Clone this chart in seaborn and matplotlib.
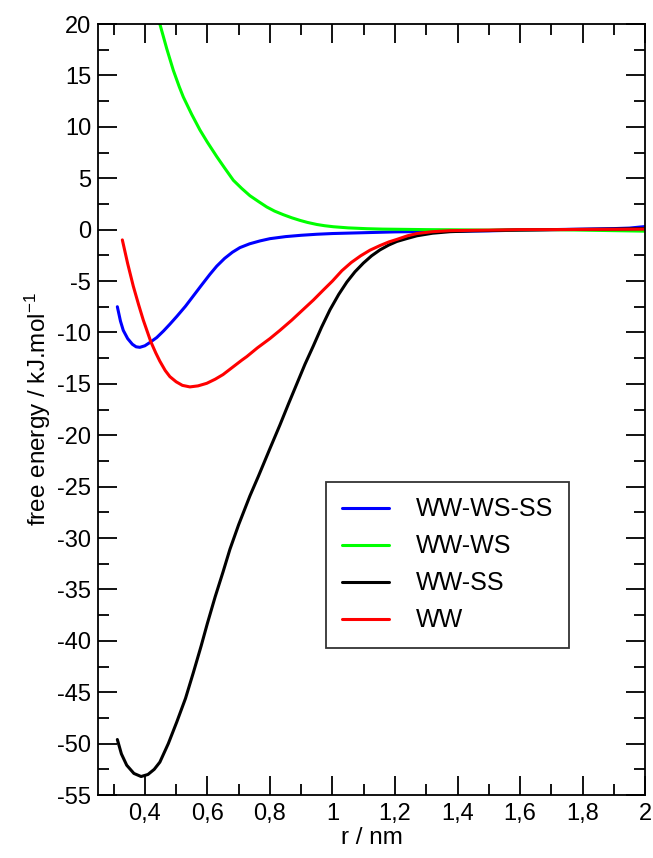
import numpy as np
import pandas as pd
import matplotlib
matplotlib.use("Agg")
import matplotlib.pyplot as plt
from matplotlib.ticker import MultipleLocator, FuncFormatter
import seaborn as sns

# values (r in nm, free energy in kJ/mol)
r_wwwsss = [0.312, 0.322, 0.331, 0.345, 0.36, 0.372, 0.384, 0.40, 0.415, 0.438, 0.46,
            0.48, 0.502, 0.53, 0.555, 0.58, 0.608, 0.63, 0.655, 0.68, 0.704, 0.735,
            0.768, 0.80, 0.85, 0.90, 0.95, 1.0, 1.1, 1.2, 1.3, 1.4, 1.5, 1.6, 1.7,
            1.8, 1.9, 1.95, 2.0]
g_wwwsss = [-7.5, -8.9, -9.8, -10.6, -11.15, -11.4, -11.45, -11.3, -11.0, -10.5, -9.85,
            -9.2, -8.45, -7.45, -6.45, -5.45, -4.35, -3.55, -2.8, -2.2, -1.75, -1.38,
            -1.1, -0.88, -0.68, -0.55, -0.45, -0.38, -0.3, -0.22, -0.18, -0.15, -0.12,
            -0.05, 0.0, 0.05, 0.1, 0.15, 0.3]

r_wwws = [0.448, 0.47, 0.491, 0.51, 0.523, 0.55, 0.576, 0.60, 0.63, 0.655, 0.683, 0.71,
          0.736, 0.765, 0.79, 0.815, 0.843, 0.87, 0.896, 0.92, 0.95, 0.975, 1.003, 1.05,
          1.11, 1.16, 1.216, 1.3, 1.4, 1.5, 1.6, 1.7, 1.8, 1.9, 2.0]
g_wwws = [20.0, 17.6, 15.5, 13.9, 12.9, 11.2, 9.7, 8.5, 7.1, 6.0, 4.8, 4.0,
          3.3, 2.7, 2.2, 1.8, 1.45, 1.15, 0.9, 0.7, 0.5, 0.38, 0.28, 0.17,
          0.09, 0.05, 0.03, 0.0, -0.02, -0.05, -0.03, 0.0, -0.05, -0.1, -0.15]

r_wwss = [0.312, 0.325, 0.342, 0.365, 0.388, 0.41, 0.43, 0.448, 0.475, 0.502, 0.53,
          0.555, 0.58, 0.60, 0.625, 0.65, 0.672, 0.70, 0.736, 0.763, 0.80, 0.832,
          0.86, 0.886, 0.912, 0.939, 0.965, 0.992, 1.02, 1.046, 1.072, 1.099, 1.125,
          1.152, 1.18, 1.206, 1.24, 1.27, 1.32, 1.376, 1.45, 1.6, 1.7, 1.8, 1.9, 2.0]
g_wwss = [-49.6, -51.0, -52.1, -52.9, -53.2, -53.0, -52.5, -51.8, -50.0, -47.9, -45.6,
          -43.1, -40.5, -38.3, -35.7, -33.3, -31.1, -28.7, -25.9, -24.0, -21.3, -19.0,
          -16.9, -15.0, -13.1, -11.3, -9.5, -7.8, -6.3, -5.1, -4.1, -3.25, -2.55,
          -1.97, -1.5, -1.15, -0.85, -0.6, -0.35, -0.2, -0.12, -0.03, 0.0, 0.02, 0.05, 0.1]

r_ww = [0.328, 0.345, 0.363, 0.38, 0.395, 0.419, 0.435, 0.448, 0.465, 0.48, 0.50,
        0.52, 0.544, 0.57, 0.598, 0.625, 0.65, 0.68, 0.71, 0.726, 0.76, 0.80, 0.832,
        0.87, 0.90, 0.939, 0.97, 1.0, 1.03, 1.06, 1.09, 1.12, 1.152, 1.18, 1.206,
        1.24, 1.27, 1.32, 1.376, 1.5, 1.6, 1.7, 1.8, 1.9, 2.0]
g_ww = [-1.0, -3.3, -5.5, -7.3, -8.8, -10.9, -12.0, -12.8, -13.7, -14.3, -14.8,
        -15.15, -15.3, -15.2, -14.95, -14.55, -14.1, -13.4, -12.7, -12.35, -11.5, -10.6, -9.8,
        -8.8, -7.95, -6.85, -5.9, -5.0, -4.0, -3.2, -2.55, -2.0, -1.55, -1.2, -0.95,
        -0.6, -0.38, -0.2, -0.1, -0.05, 0.0, 0.0, 0.02, 0.03, 0.05]

names = ["WW-WS-SS", "WW-WS", "WW-SS", "WW"]
colors = ["#0000ff", "#00ff00", "#000000", "#ff0000"]

frames = []
for name, r, g in zip(names, [r_wwwsss, r_wwws, r_wwss, r_ww],
                      [g_wwwsss, g_wwws, g_wwss, g_ww]):
    frames.append(pd.DataFrame({"r": r, "G": g, "set": name}))
df = pd.concat(frames, ignore_index=True)

sns.set_theme(style="ticks")
plt.rcParams["font.family"] = ["Liberation Sans", "DejaVu Sans"]
plt.rcParams["mathtext.default"] = "regular"
plt.rcParams["text.color"] = "black"
plt.rcParams["axes.labelcolor"] = "black"

fig = plt.figure(figsize=(6.53, 8.58), dpi=100)
ax = fig.add_axes([0.150, 0.0734, 0.838, 0.8986])

sns.lineplot(data=df, x="r", y="G", hue="set", hue_order=names,
             palette=dict(zip(names, colors)), sort=True, linewidth=2.2,
             estimator=None, ax=ax)

ax.set_xlim(0.25, 2.0)
ax.set_ylim(-55, 20)
ax.xaxis.set_major_locator(MultipleLocator(0.2))
ax.xaxis.set_minor_locator(MultipleLocator(0.1))
ax.yaxis.set_major_locator(MultipleLocator(5))
ax.yaxis.set_minor_locator(MultipleLocator(2.5))
ax.xaxis.set_major_formatter(FuncFormatter(lambda v, p: f"{v:g}".replace(".", ",")))
ax.yaxis.set_major_formatter(FuncFormatter(lambda v, p: f"{v:g}"))

ax.tick_params(which="both", direction="in", top=True, right=True,
               colors="black", labelcolor="black", width=1.3, labelsize=17)
ax.tick_params(which="major", length=13.5)
ax.tick_params(which="minor", length=8)
ax.tick_params(axis="x", which="major", pad=6)
ax.tick_params(axis="y", which="major", pad=5)
for s in ax.spines.values():
    s.set_linewidth(1.3)
    s.set_color("black")

ax.set_xlabel("r / nm", fontsize=17.5, labelpad=1)
ax.set_ylabel("free energy / kJ.mol$^{-1}$", fontsize=17.5, labelpad=3)

handles, labels = ax.get_legend_handles_labels()
leg = ax.legend(handles, labels, loc="lower left", bbox_to_anchor=(0.417, 0.191),
                borderaxespad=0, fontsize=18, frameon=True, fancybox=False,
                edgecolor="black", handlelength=1.88, handletextpad=1.08,
                labelspacing=0.52, borderpad=0.62)
leg.get_frame().set_linewidth(1.3)
for line in leg.get_lines():
    line.set_linewidth(2.2)

fig.savefig("out.png", dpi=100)
